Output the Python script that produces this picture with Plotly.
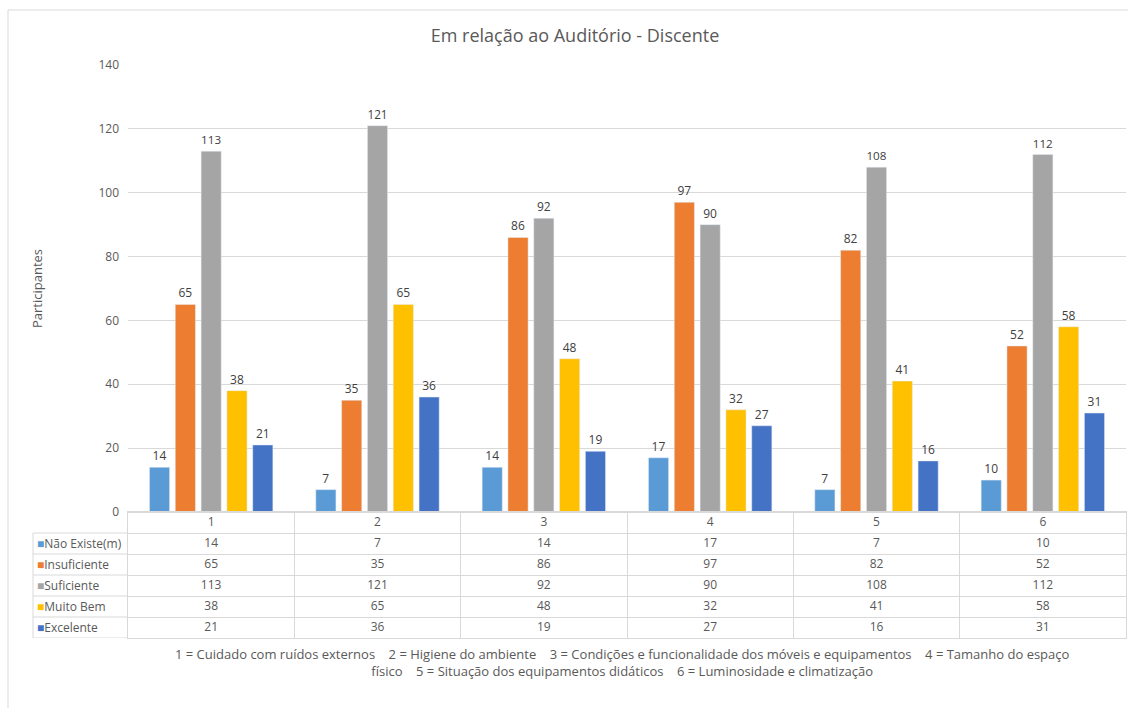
import plotly.graph_objects as go
from plotly.subplots import make_subplots

# Data
categories = ["1", "2", "3", "4", "5", "6"]
series_names = ["Não Existe(m)", "Insuficiente", "Suficiente", "Muito Bem", "Excelente"]
nao_existe = [14, 7, 14, 17, 7, 10]
insuficiente = [65, 35, 86, 97, 82, 52]
suficiente = [113, 121, 92, 90, 108, 112]
muito_bem = [38, 65, 48, 32, 41, 58]
excelente = [21, 36, 19, 27, 16, 31]
y_ticks = [0, 20, 40, 60, 80, 100, 120, 140]

colors = ["#5B9BD5", "#ED7D31", "#A5A5A5", "#FFC000", "#4472C4"]
all_values = [nao_existe, insuficiente, suficiente, muito_bem, excelente]

title_text = "Em relação ao Auditório - Discente"
caption = ("1 = Cuidado com ruídos externos    2 = Higiene do ambiente    "
           "3 = Condições e funcionalidade dos móveis e equipamentos    4 = Tamanho do espaço<br>"
           "físico    5 = Situação dos equipamentos didáticos    6 = Luminosidade e climatização")

FONT = "Open Sans"
TXT = "#595959"
GRID = "#D9D9D9"

W, H = 1128, 708
ML, MR, MT, MB = 128, 2, 65, 70
PW, PH = W - ML - MR, H - MT - MB


def px_x(x):
    return (x - ML) / PW


def px_y(y):
    return (H - MB - y) / PH


fig = make_subplots(rows=2, cols=1, shared_xaxes=True, vertical_spacing=0,
                    row_heights=[447, 126])

# Bars
for name, vals, col in zip(series_names, all_values, colors):
    fig.add_trace(go.Bar(
        x=categories, y=vals, name=name, marker_color=col,
        text=vals, textposition="outside", cliponaxis=False,
        textfont=dict(size=12, color="#404040", family=FONT),
        hoverinfo="skip"
    ), row=1, col=1)

# Data table below the chart
row_keys = [" "] + series_names
fig.add_trace(go.Scatter(
    x=categories, y=[" "] * len(categories), text=categories, mode="text",
    textfont=dict(size=12, color=TXT, family=FONT), hoverinfo="skip"
), row=2, col=1)
for name, vals in zip(series_names, all_values):
    fig.add_trace(go.Scatter(
        x=categories, y=[name] * len(categories), text=[str(v) for v in vals],
        mode="text", textfont=dict(size=12, color=TXT, family=FONT),
        hoverinfo="skip"
    ), row=2, col=1)

# Row labels with colour keys
for name, col in zip(series_names, colors):
    fig.add_annotation(
        x=px_x(35), xref="paper", y=name, yref="y2",
        text=f"<span style='color:{col}'>■</span>{name}",
        showarrow=False, xanchor="left", yanchor="middle",
        font=dict(size=12, color=TXT, family=FONT)
    )

# Borders for label column
lab_x0 = px_x(33)
for i in range(len(series_names) + 1):
    fig.add_shape(type="line", xref="paper", yref="y2",
                  x0=lab_x0, x1=0, y0=i + 0.5, y1=i + 0.5,
                  line=dict(color=GRID, width=1))
fig.add_shape(type="line", xref="paper", yref="y2",
              x0=lab_x0, x1=lab_x0, y0=0.5, y1=len(series_names) + 0.5,
              line=dict(color=GRID, width=1))

# Outer chart frame
fig.add_shape(type="rect", xref="paper", yref="paper",
              x0=px_x(8), x1=px_x(1140), y0=px_y(720), y1=px_y(10),
              line=dict(color=GRID, width=1), layer="below")

# Y axis title
fig.add_annotation(x=px_x(37), y=px_y(289), xref="paper", yref="paper",
                   text="Participantes", textangle=-90, showarrow=False,
                   xanchor="center", yanchor="middle",
                   font=dict(size=13, color=TXT, family=FONT))

# Caption
fig.add_annotation(x=px_x(622), y=px_y(643), xref="paper", yref="paper",
                   text=caption, showarrow=False, xanchor="center", yanchor="top",
                   align="center", font=dict(size=13, color=TXT, family=FONT))

fig.update_layout(
    width=W, height=H,
    margin=dict(l=ML, r=MR, t=MT, b=MB),
    paper_bgcolor="white", plot_bgcolor="white",
    showlegend=False,
    barmode="group", bargap=0.224, bargroupgap=0.22,
    font=dict(family=FONT, color=TXT),
    title=dict(text=title_text, x=575 / W, xref="container", xanchor="center",
               y=1 - 36 / H, yref="container", yanchor="middle",
               font=dict(size=18, color=TXT, family=FONT)),
)

n = len(categories)
fig.update_xaxes(type="category", categoryorder="array", categoryarray=categories,
                 range=[-0.5, n - 0.5], showticklabels=False, ticks="",
                 showline=True, linecolor=GRID, showgrid=False, row=1, col=1)
fig.update_xaxes(type="category", categoryorder="array", categoryarray=categories,
                 range=[-0.5, n - 0.5], showticklabels=False, ticks="",
                 tickson="boundaries", showgrid=True, gridcolor=GRID,
                 showline=True, linecolor=GRID, mirror=True, row=2, col=1)

fig.update_yaxes(range=[0, 140], tickvals=y_ticks, showgrid=True, gridcolor=GRID,
                 zeroline=False, ticks="", tickfont=dict(size=12, color=TXT),
                 ticklabelstandoff=8, row=1, col=1)
fig.update_yaxes(type="category", categoryorder="array", categoryarray=row_keys,
                 range=[len(row_keys) - 0.5, -0.5], showticklabels=False, ticks="",
                 tickson="boundaries", showgrid=True, gridcolor=GRID,
                 showline=True, linecolor=GRID, mirror=True, zeroline=False,
                 row=2, col=1)

# Remove the default page margin so the figure sits at the window origin
fig.write_html("out.html", config={"displayModeBar": False},
               post_script="document.body.style.margin='0';")
